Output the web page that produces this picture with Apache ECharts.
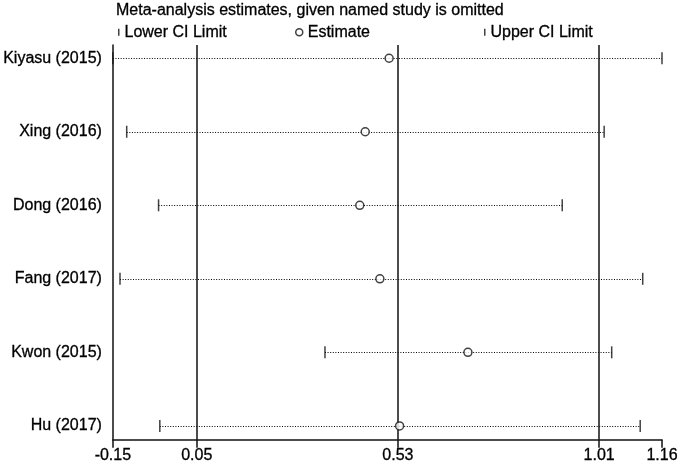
<!DOCTYPE html>
<html>
<head>
<meta charset="utf-8">
<script src="https://cdn.jsdelivr.net/npm/echarts@6/dist/echarts.min.js"></script>
<style>
html,body{margin:0;padding:0;background:#fff;}
#chart{width:685px;height:464px;}
</style>
</head>
<body>
<div id="chart"></div>
<script>
const studies = ['Kiyasu (2015)', 'Xing (2016)', 'Dong (2016)', 'Fang (2017)', 'Kwon (2015)', 'Hu (2017)'];
const estimate = [0.509, 0.452, 0.439, 0.487, 0.697, 0.534];
const lowerCI = [-0.15, -0.117, -0.041, -0.133, 0.356, -0.038];
const upperCI = [1.16, 1.022, 0.922, 1.114, 1.040, 1.108];
const xTicks = [-0.15, 0.05, 0.53, 1.01, 1.16];
const refLines = [0.05, 0.53, 1.01];
const rows = studies.map((s, i) => i + 1);

const FONT = 'Liberation Sans, Arial, sans-serif';
const INK = '#111';
const txt = {fontFamily: FONT, fontSize: 16, color: '#000', textBorderColor: '#000', textBorderWidth: 0.3};

const chart = echarts.init(document.getElementById('chart'), null, {renderer: 'canvas'});
chart.setOption({
  animation: false,
  backgroundColor: '#fff',
  title: {
    text: 'Meta-analysis estimates, given named study is omitted',
    left: 116, top: 3, padding: 0,
    textStyle: Object.assign({fontWeight: 'normal'}, txt)
  },
  legend: [
    {data: [{name: 'Lower CI Limit', icon: 'rect'}], left: 113, top: 19, itemWidth: 1.5, itemHeight: 7,
     textStyle: txt},
    {data: [{name: 'Estimate', icon: 'circle'}], left: 290, top: 19, itemWidth: 7, itemHeight: 7,
     itemStyle: {color: '#fff', borderColor: INK, borderWidth: 1.5},
     textStyle: txt},
    {data: [{name: 'Upper CI Limit', icon: 'rect'}], left: 479, top: 19, itemWidth: 1.5, itemHeight: 7,
     textStyle: txt}
  ],
  grid: {left: 111, right: 23, top: 45, bottom: 24, containLabel: false},
  xAxis: {
    type: 'value', min: -0.15, max: 1.16,
    axisLine: {show: true, onZero: false, lineStyle: {color: INK, width: 1.5}},
    axisTick: {show: true, length: 8, customValues: xTicks, lineStyle: {color: INK, width: 1.5}},
    axisLabel: Object.assign({customValues: xTicks, formatter: v => v.toFixed(2), margin: 8}, txt),
    splitLine: {show: false}
  },
  yAxis: {
    type: 'value', inverse: true, min: 0.82, max: 6.19,
    axisLine: {show: true, onZero: false, lineStyle: {color: INK, width: 1.5}},
    axisTick: {show: false},
    axisLabel: Object.assign({customValues: rows, formatter: v => studies[Math.round(v) - 1], margin: 11}, txt),
    splitLine: {show: false}
  },
  series: [
    {
      name: 'CI', type: 'custom', z: 2,
      encode: {x: [0, 2], y: 1},
      data: rows.map((r, i) => [lowerCI[i], r, upperCI[i]]),
      renderItem: function (params, api) {
        const y = api.value(1);
        const p1 = api.coord([api.value(0), y]);
        const p2 = api.coord([api.value(2), y]);
        const yy = Math.round(p1[1]) + 0.5;
        return {type: 'line', shape: {x1: p1[0], y1: yy, x2: p2[0], y2: yy},
                style: {stroke: '#000', lineWidth: 1, lineDash: [1, 1.6]}};
      },
      markLine: {
        silent: true, symbol: 'none', label: {show: false},
        lineStyle: {color: INK, width: 1.5, type: 'solid'},
        data: refLines.map(v => ({xAxis: v}))
      }
    },
    {
      name: 'Lower CI Limit', type: 'scatter', z: 4,
      symbol: 'rect', symbolSize: [1.5, 12],
      itemStyle: {color: INK},
      data: rows.map((r, i) => [lowerCI[i], r])
    },
    {
      name: 'Upper CI Limit', type: 'scatter', z: 4,
      symbol: 'rect', symbolSize: [1.5, 12],
      itemStyle: {color: INK},
      data: rows.map((r, i) => [upperCI[i], r])
    },
    {
      name: 'Estimate', type: 'scatter', z: 5,
      symbol: 'circle', symbolSize: 8,
      itemStyle: {color: '#fff', borderColor: INK, borderWidth: 1.5},
      data: rows.map((r, i) => [estimate[i], r])
    }
  ]
});
</script>
</body>
</html>
